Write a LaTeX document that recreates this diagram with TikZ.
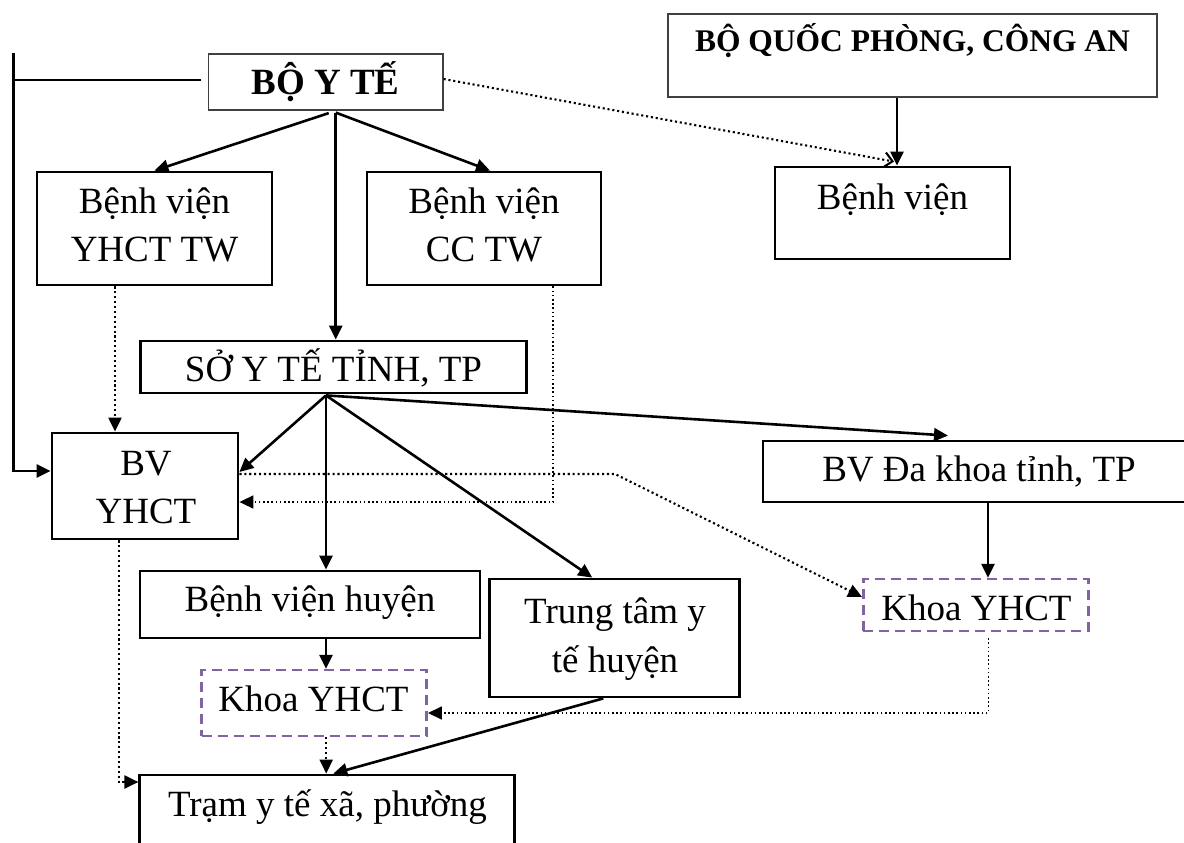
\documentclass[tikz,border=0pt]{standalone}
\usepackage{fontspec}
\setmainfont{Liberation Serif}
\usetikzlibrary{arrows.meta}
\definecolor{kpurple}{RGB}{128,100,162}
\begin{document}
\begin{tikzpicture}[x=1pt,y=-1pt,
  box/.style={draw, line width=2.8pt, inner sep=0pt},
  thinbox/.style={draw=black!75, line width=1.2pt, inner sep=0pt},
  kbox/.style={draw=kpurple, line width=2.5pt, dash pattern=on 10pt off 6pt, inner sep=0pt},
  txt/.style={inner sep=0pt, anchor=base, font=\fontsize{37}{44}\selectfont},
  btxt/.style={inner sep=0pt, anchor=base, font=\fontsize{37}{44}\selectfont\bfseries},
  bstxt/.style={inner sep=0pt, anchor=base, font=\fontsize{31.5}{38}\selectfont\bfseries},
  ln/.style={line width=2.6pt},
  arr/.style={line width=2.6pt, -{Triangle[length=14pt,width=13pt]}},
  dots/.style={line width=2.1pt, dash pattern=on 2.1pt off 2.8pt},
  thindots/.style={line width=1.6pt, dash pattern=on 1.6pt off 2.6pt},
  darr/.style={dots, -{Triangle[length=14pt,width=13pt]}},
]
\clip (0,0) rectangle (1184,843);
\fill[white] (0,0) rectangle (1184,843);

% boxes
\node[thinbox, minimum width=234.5pt, minimum height=56pt] (byt) at (325.75,82) {};
\node[thinbox, minimum width=489pt, minimum height=83pt] (bqp) at (912.5,55.5) {};
\node[box, minimum width=235pt, minimum height=92pt] (bvr) at (892.5,213) {};
\node[box, minimum width=235pt, minimum height=113pt] (yhcttw) at (154.5,228.5) {};
\node[box, minimum width=234pt, minimum height=113pt] (cctw) at (484,228.5) {};
\node[box, minimum width=386pt, minimum height=52pt] (so) at (333.5,367) {};
\node[box, minimum width=186pt, minimum height=106pt] (bvyhct) at (145,486) {};
\node[box, minimum width=432pt, minimum height=61pt] (dk) at (979,471.5) {};
\node[box, minimum width=340pt, minimum height=67pt] (bvh) at (310,604.5) {};
\node[box, minimum width=250pt, minimum height=118pt] (ttyt) at (614.3,638) {};
\node[kbox, minimum width=225pt, minimum height=52pt] (khr) at (975.8,605) {};
\node[kbox, minimum width=225pt, minimum height=66pt] (khl) at (314.2,703) {};
\node[box, minimum width=375pt, minimum height=100pt] (tram) at (327.3,825) {};

% texts
\node[btxt] (byt-t) at (325.5,95) {BỘ Y TẾ};
\node[bstxt] (bqp-t) at (912.5,51.7) {BỘ QUỐC PHÒNG, CÔNG AN};
\node[txt] (bvr-t) at (892.5,209) {Bệnh viện};
\node[txt] (yhcttw-t1) at (154.5,213.3) {Bệnh viện};
\node[txt] (yhcttw-t2) at (154.5,261.7) {YHCT TW};
\node[txt] (cctw-t1) at (484,213.3) {Bệnh viện};
\node[txt] (cctw-t2) at (484,261.7) {CC TW};
\node[txt] (so-t) at (333.5,381.7) {SỞ Y TẾ TỈNH, TP};
\node[txt] (bvyhct-t1) at (146,475) {BV};
\node[txt] (bvyhct-t2) at (146,523.3) {YHCT};
\node[txt] (dk-t) at (979,481.7) {BV Đa khoa tỉnh, TP};
\node[txt] (bvh-t) at (310,611.7) {Bệnh viện huyện};
\node[txt] (ttyt-t1) at (615,623) {Trung tâm y};
\node[txt] (ttyt-t2) at (615,672.7) {tế huyện};
\node[txt] (khr-t) at (976.5,620.7) {Khoa YHCT};
\node[txt] (khl-t) at (313.5,711.7) {Khoa YHCT};
\node[txt] (tram-t) at (327.5,816.7) {Trạm y tế xã, phường};

% helper coordinates
\coordinate (tl) at (13.5,53);
\coordinate (bytw) at ([xshift=-6.5pt,yshift=2pt]byt.west);
\coordinate (bytsl) at ([xshift=3pt,yshift=-2.5pt]byt.south);
\coordinate (bytsr) at ([xshift=10pt,yshift=-2pt]byt.south);
\coordinate (sop) at ([xshift=-7.5pt,yshift=-1pt]so.south);
\coordinate (bend1) at (615,474);

% solid connectors
\draw[ln] (bytw) -- (bytw -| tl);
\draw[arr] (tl) |- ([yshift=15pt]bvyhct.west);
\draw[arr] (bytsl) -- (yhcttw.north);
\draw[arr] (bytsr) -- ([xshift=6pt]cctw.north);
\draw[arr] (bytsr) -- (bytsr |- so.north);
\draw[arr] ([xshift=-15.5pt]bqp.south) -- ([xshift=-15.5pt]bqp.south |- bvr.north);
\draw[arr] (sop) -- ([yshift=14pt]bvyhct.east);
\draw[arr] (sop) -- (sop |- bvh.north);
\draw[arr] (sop) -- ([xshift=-22pt]ttyt.north);
\draw[arr] (sop) -- ([xshift=-31pt,yshift=4pt]dk.north);
\draw[arr] ([xshift=9pt]dk.south) -- ([xshift=9pt]dk.south |- khr.north);
\draw[arr] ([xshift=16pt]bvh.south) -- ([xshift=16pt]bvh.south |- khl.north);
\draw[arr] ([xshift=-11pt]ttyt.south) -- ([xshift=6pt]tram.north);

% dotted connectors
\draw[dots, -{Straight Barb[length=8pt,width=15pt]}] ([yshift=3pt]byt.east) -- ([xshift=1.5pt,yshift=4pt]bvr.north);
\draw[darr] ([xshift=-39.5pt]yhcttw.south) -- ([xshift=-39.5pt]yhcttw.south |- bvyhct.north);
\draw[thindots, -{Triangle[length=14pt,width=13pt]}] ([xshift=69pt]cctw.south) |- ([yshift=-16pt]bvyhct.east);
\draw[darr] ([yshift=12pt]bvyhct.east) -- (bend1) -- ([yshift=8pt]khr.west);
\draw[darr] ([xshift=-26pt]bvyhct.south) |- ([yshift=43pt]tram.west);
\draw[darr] ([xshift=12pt]khl.south) -- ([xshift=12pt]khl.south |- tram.north);
\draw[thindots, -{Triangle[length=14pt,width=13pt]}] ([xshift=12.5pt,yshift=-6pt]khr.south) |- ([yshift=-10pt]khl.east);
\end{tikzpicture}
\end{document}
